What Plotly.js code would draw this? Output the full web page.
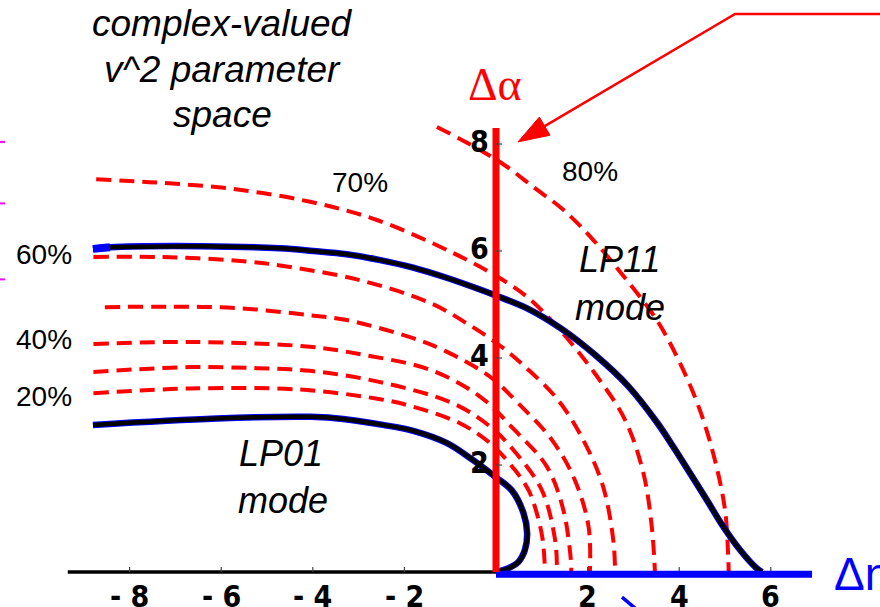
<!DOCTYPE html>
<html>
<head>
<meta charset="utf-8">
<script src="https://cdn.plot.ly/plotly-3.0.1.min.js"></script>
<style>html,body{margin:0;padding:0;background:#fff;}#chart{width:880px;height:607px;}</style>
</head>
<body>
<div id="chart"></div>
<script>
// ---- data ----
// LP11 mode boundary (solid)
const lp11X = [-8.80, -8.43, -6.46, -4.72, -3.99, -3.26, -2.53, -1.81, -1.08, -0.35, 0.02, 0.70, 1.44, 2.16, 2.88, 3.52, 3.87, 4.24, 4.60, 4.96, 5.33, 5.69, 5.81];
const lp11Y = [6.04, 6.07, 6.09, 6.05, 6.00, 5.94, 5.83, 5.69, 5.50, 5.28, 5.16, 4.92, 4.54, 4.06, 3.48, 2.79, 2.34, 1.84, 1.35, 0.85, 0.41, 0.07, 0.00];
// LP01 mode boundary (solid)
const lp01X = [-8.80, -6.10, -4.06, -3.56, -2.47, -1.81, -1.07, -0.50, -0.02, 0.34, 0.60, 0.68, 0.63, 0.49, 0.27, 0.05, 0.00];
const lp01Y = [2.75, 2.87, 2.90, 2.88, 2.75, 2.64, 2.41, 2.09, 1.78, 1.53, 1.10, 0.72, 0.41, 0.19, 0.07, 0.01, 0.00];
// dashed contour lines
const c20X = [-8.79, -6.68, -4.28, -2.53, -1.81, -0.79, -0.13, 0.41, 0.71, 0.89, 1.02, 1.07];
const c20Y = [3.34, 3.43, 3.41, 3.23, 3.09, 2.78, 2.41, 1.91, 1.53, 1.10, 0.60, 0.00];
const c30X = [-8.79, -6.68, -5.22, -4.06, -2.53, -0.93, -0.13, 0.38, 1.00, 1.29, 1.33];
const c30Y = [3.74, 3.83, 3.81, 3.76, 3.55, 3.15, 2.72, 2.28, 1.53, 0.60, 0.00];
const c40X = [-8.79, -6.68, -4.06, -2.90, -1.44, -0.35, 0.41, 1.11, 1.47, 1.64, 1.64];
const c40Y = [4.26, 4.30, 4.21, 4.06, 3.78, 3.28, 2.65, 1.97, 1.16, 0.16, 0.00];
const c50X = [-8.54, -7.05, -5.59, -4.06, -3.26, -1.81, -1.08, -0.13, 0.49, 1.22, 1.72, 2.02, 2.05];
const c50Y = [4.95, 4.96, 4.93, 4.80, 4.71, 4.37, 4.12, 3.65, 3.15, 2.47, 1.72, 0.85, 0.00];
const c60X = [-8.79, -6.97, -5.37, -4.72, -3.04, -1.44, -0.64, 0.12, 0.63, 1.36, 1.94, 2.34, 2.56, 2.60];
const c60Y = [5.89, 5.88, 5.80, 5.73, 5.47, 5.03, 4.65, 4.21, 3.84, 3.21, 2.41, 1.59, 0.60, 0.00];
const c70X = [-8.73, -7.41, -5.74, -4.06, -2.60, -0.93, 0.09, 0.71, 1.43, 2.16, 2.82, 3.22, 3.40, 3.47];
const c70Y = [7.34, 7.28, 7.16, 6.92, 6.58, 5.96, 5.49, 5.12, 4.49, 3.71, 2.84, 1.84, 0.85, 0.00];
const c80X = [-1.29, -0.35, 0.23, 0.81, 1.47, 2.12, 2.85, 3.51, 4.02, 4.45, 4.78, 5.00, 5.07, 5.08];
const c80Y = [8.32, 7.89, 7.58, 7.20, 6.77, 6.21, 5.46, 4.71, 3.90, 3.03, 2.09, 1.16, 0.29, 0.00];

// axes
const negAxisX = [-9.35, 0];      // black real axis (negative side)
const posAxisX = [0, 6.9];        // blue Δn axis
const posAxisY = -0.04;
const alphaAxisY = [0, 8.3];      // red Δα axis
const xTickVals = [-8, -6, -4, -2, 2, 4, 6];
const xTickText = ['- 8', '- 6', '- 4', '- 2', '2', '4', '6'];
const yTickVals = [2, 4, 6, 8];
const yTickText = ['2', '4', '6', '8'];

// percentage labels
const pctText = ['60%', '40%', '20%', '70%', '80%'];
const pctX = [-9.88, -9.88, -9.88, -2.97, 2.05];
const pctY = [5.93, 4.34, 3.29, 7.28, 7.48];

// pointer arrow (red) ending near the Δα axis
const arrowX = [8.60, 5.22, 0.48];
const arrowY = [10.43, 10.43, 8.04];
// fragments of off-canvas pointers
const blueArrowX = [2.75, 3.14];
const blueArrowY = [-0.47, -0.75];
const magentaY = [8.04, 6.89, 5.47];

// ---- drawing ----
const xRange = [-10.830, 8.384];
const yRange = [-0.654, 10.692];
const W = 880, H = 607;
const pxX = W / (xRange[1] - xRange[0]);
const pxY = H / (yRange[1] - yRange[0]);

const traces = [];
const dashStyle = {color: '#ff0000', width: 4, dash: '15px,8px', shape: 'spline', smoothing: 1};
[[c20X, c20Y], [c30X, c30Y], [c40X, c40Y], [c50X, c50Y], [c60X, c60Y], [c70X, c70Y], [c80X, c80Y]].forEach(function (c) {
  traces.push({x: c[0], y: c[1], mode: 'lines', line: dashStyle, hoverinfo: 'skip'});
});
// solid mode boundaries: blue halo + black core
[[lp01X, lp01Y], [lp11X, lp11Y]].forEach(function (c) {
  traces.push({x: c[0], y: c[1], mode: 'lines', line: {color: '#0000ff', width: 6.5, shape: 'spline', smoothing: 1}, hoverinfo: 'skip'});
});
traces.push({x: lp11X.slice(0, 2), y: lp11Y.slice(0, 2), mode: 'lines', line: {color: '#0000ff', width: 8}, hoverinfo: 'skip'});
traces.push({x: lp01X, y: lp01Y, mode: 'lines', line: {color: '#000000', width: 4.5, shape: 'spline', smoothing: 1}, hoverinfo: 'skip'});
traces.push({x: lp11X.slice(1), y: lp11Y.slice(1), mode: 'lines', line: {color: '#000000', width: 4.5, shape: 'spline', smoothing: 1}, hoverinfo: 'skip'});

// axes lines
traces.push({x: negAxisX, y: [0, 0], mode: 'lines', line: {color: '#000000', width: 3.3}, hoverinfo: 'skip'});
// tick marks
const tkX = [], tkY = [];
xTickVals.forEach(function (v) { tkX.push(v, v, null); tkY.push(0, 5 / pxY, null); });
traces.push({x: tkX, y: tkY, mode: 'lines', line: {color: '#444444', width: 1.2}, hoverinfo: 'skip'});
traces.push({x: posAxisX, y: [posAxisY, posAxisY], mode: 'lines', line: {color: '#0000ff', width: 7}, hoverinfo: 'skip'});
traces.push({x: [0, 0], y: alphaAxisY, mode: 'lines', line: {color: '#ff0000', width: 7}, hoverinfo: 'skip'});
const tyX = [], tyY = [];
yTickVals.forEach(function (v) { tyX.push(0, 6 / pxX, null); tyY.push(v, v, null); });
traces.push({x: tyX, y: tyY, mode: 'lines', line: {color: '#444444', width: 1.2}, hoverinfo: 'skip'});

// red pointer arrow: line + computed triangular head
(function () {
  const n = arrowX.length;
  const tx = arrowX[n - 1], ty = arrowY[n - 1];
  const dx = (tx - arrowX[n - 2]) * pxX, dy = (ty - arrowY[n - 2]) * pxY;
  const L = Math.hypot(dx, dy), ux = dx / L, uy = dy / L;
  const headLen = 31, headW = 21;
  const bx = tx - ux * headLen / pxX, by = ty - uy * headLen / pxY;
  const nx = -uy, ny = ux;
  const lx = arrowX.slice(0, n - 1).concat([bx]);
  const ly = arrowY.slice(0, n - 1).concat([by]);
  traces.push({x: lx, y: ly, mode: 'lines', line: {color: '#ff0000', width: 2.5}, hoverinfo: 'skip'});
  traces.push({
    x: [tx, bx + nx * headW / 2 / pxX, bx - nx * headW / 2 / pxX, tx],
    y: [ty, by + ny * headW / 2 / pxY, by - ny * headW / 2 / pxY, ty],
    mode: 'lines', fill: 'toself', fillcolor: '#ff0000', line: {color: '#ff0000', width: 1}, hoverinfo: 'skip'
  });
})();
traces.push({x: blueArrowX, y: blueArrowY, mode: 'lines', line: {color: '#0000ff', width: 3.5}, hoverinfo: 'skip'});
const mgX = [], mgY = [];
magentaY.forEach(function (v) { mgX.push(xRange[0], xRange[0] + 5 / pxX, null); mgY.push(v, v, null); });
traces.push({x: mgX, y: mgY, mode: 'lines', line: {color: '#ff00ff', width: 2}, hoverinfo: 'skip'});

// ---- text ----
const sans = 'Liberation Sans, Arial, Helvetica, sans-serif';
const narrow = 'Liberation Sans Narrow, Arial Narrow, DejaVu Sans Condensed, sans-serif';
const ann = [];
function txt(x, y, text, size, color, family, xa) {
  ann.push({x: x, y: y, xref: 'x', yref: 'y', text: text, showarrow: false,
    xanchor: xa || 'center', yanchor: 'middle',
    font: {size: size, color: color, family: family}});
}
txt(-5.98, 10.25, '<i>complex-valued</i>', 37, '#000', sans);
txt(-5.98, 9.39, '<i>v^2 parameter</i>', 37, '#000', sans);
txt(-5.98, 8.56, '<i>space</i>', 37, '#000', sans);
pctText.forEach(function (t, i) { txt(pctX[i], pctY[i], t, 28, '#000', sans); });
txt(-4.69, 2.21, '<i>LP01</i>', 36, '#000', sans);
txt(-4.66, 1.34, '<i>mode</i>', 36, '#000', sans);
txt(2.69, 5.85, '<i>LP11</i>', 36, '#000', sans);
txt(2.70, 4.94, '<i>mode</i>', 36, '#000', sans);
txt(-0.02, 9.11, 'Δα', 46, '#ff0000', 'Liberation Serif, Times New Roman, serif');
txt(7.34, posAxisY, 'Δn', 46, '#0000ff', sans, 'left');
xTickVals.forEach(function (v, i) { txt(v, -0.46, '<b>' + xTickText[i] + '</b>', 30, '#000', narrow); });
yTickVals.forEach(function (v, i) { txt(-0.371, v + 0.056, '<b>' + yTickText[i] + '</b>', 30, '#000', narrow); });

const layout = {
  width: W, height: H,
  margin: {l: 0, r: 0, t: 0, b: 0, pad: 0},
  paper_bgcolor: '#ffffff', plot_bgcolor: '#ffffff',
  showlegend: false,
  xaxis: {range: xRange, visible: false, fixedrange: true},
  yaxis: {range: yRange, visible: false, fixedrange: true},
  annotations: ann
};
Plotly.newPlot('chart', traces, layout, {staticPlot: true, displayModeBar: false});
</script>
</body>
</html>
